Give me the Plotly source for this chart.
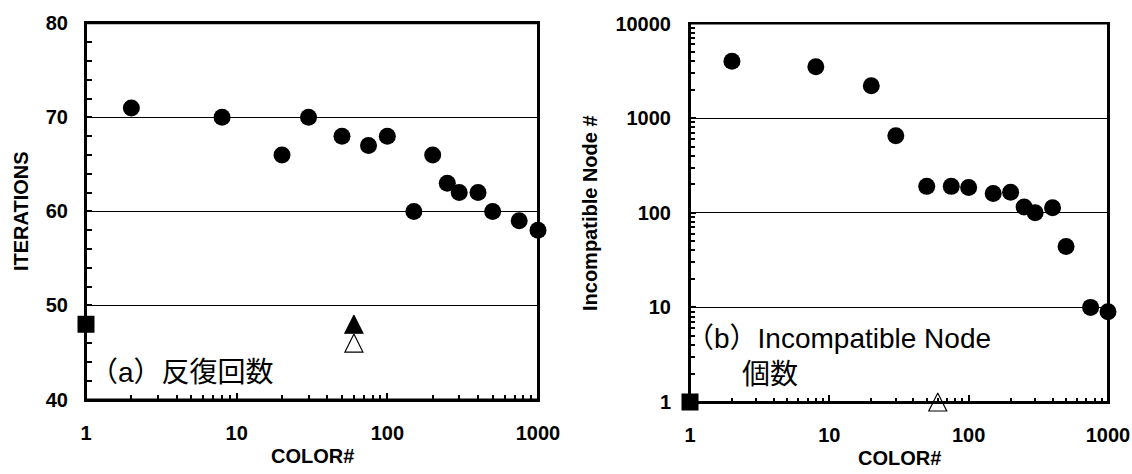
import plotly.graph_objects as go

# ---- data -------------------------------------------------------------
color_counts = [2, 8, 20, 30, 50, 75, 100, 150, 200, 250, 300, 400, 500, 750, 1000]
iterations = [71, 70, 66, 70, 68, 67, 68, 60, 66, 63, 62, 62, 60, 59, 58]
incompatible_nodes = [4000, 3500, 2200, 650, 190, 190, 185, 160, 165, 115, 100, 113, 44, 10, 9]

base_color = [1]
base_iterations = [48]
base_incompatible = [1]

ref_color = [60]
ref_iterations_filled = [48]
ref_iterations_open = [46]
ref_incompatible_open = [1]

x_tick_vals = [1, 10, 100, 1000]
x_tick_text = ["1", "10", "100", "1000"]
x_minor_vals = [m * d for d in (1, 10, 100) for m in range(2, 10)]
y1_tick_vals = [40, 50, 60, 70, 80]
y2_tick_vals = [1, 10, 100, 1000, 10000]
y2_minor_vals = [m * d for d in (1, 10, 100, 1000) for m in range(2, 10)]

# ---- geometry (pixels) -------------------------------------------------
W, H = 1132, 474
def px(x):
    return x / W
def py(y):
    return 1 - y / H

PANELS = {
    "left": dict(x0=86, x1=538, y0=23.3, y1=399.5),
    "right": dict(x0=690, x1=1108, y0=23.5, y1=402),
}

BOLD = dict(family="Liberation Sans, Arial, sans-serif", size=20, color="black", weight="bold")
NOTE = dict(family="Liberation Sans, Noto Sans CJK JP, sans-serif", size=28, color="black")

fig = go.Figure()

dot = dict(symbol="circle", size=17, color="black", line=dict(width=0))
sq = dict(symbol="square", size=17, color="black", line=dict(width=0))
# upward triangle centred on its point (arrow shape turned round and pulled back)
tri_fill = dict(symbol="arrow-down", angle=180, standoff=9, size=18, color="black",
                line=dict(width=1.2, color="black"))
tri_open = dict(symbol="arrow-down", angle=180, standoff=9, size=18, color="white",
                line=dict(width=1.2, color="black"))

# left panel: iterations
fig.add_trace(go.Scatter(x=color_counts, y=iterations, mode="markers", marker=dot,
                         xaxis="x", yaxis="y", cliponaxis=False, showlegend=False))
fig.add_trace(go.Scatter(x=base_color, y=base_iterations, mode="markers", marker=sq,
                         xaxis="x", yaxis="y", cliponaxis=False, showlegend=False))
fig.add_trace(go.Scatter(x=ref_color, y=ref_iterations_filled, mode="markers", marker=tri_fill,
                         xaxis="x", yaxis="y", cliponaxis=False, showlegend=False))
fig.add_trace(go.Scatter(x=ref_color, y=ref_iterations_open, mode="markers", marker=tri_open,
                         xaxis="x", yaxis="y", cliponaxis=False, showlegend=False))

# right panel: incompatible node count
fig.add_trace(go.Scatter(x=color_counts, y=incompatible_nodes, mode="markers", marker=dot,
                         xaxis="x2", yaxis="y2", cliponaxis=False, showlegend=False))
fig.add_trace(go.Scatter(x=base_color, y=base_incompatible, mode="markers", marker=sq,
                         xaxis="x2", yaxis="y2", cliponaxis=False, showlegend=False))
fig.add_trace(go.Scatter(x=ref_color, y=ref_incompatible_open, mode="markers", marker=tri_open,
                         xaxis="x2", yaxis="y2", cliponaxis=False, showlegend=False))

common_x = dict(
    type="log", range=[0, 3], tickmode="array", tickvals=x_tick_vals, ticktext=x_tick_text,
    ticks="inside", ticklen=7, tickwidth=2, tickcolor="black",
    showline=True, linewidth=2, linecolor="black", mirror=True,
    showgrid=False, zeroline=False, tickfont=BOLD, ticklabelstandoff=14,
    automargin=False,
    minor=dict(tickmode="array", tickvals=x_minor_vals, ticks="inside", ticklen=4.5,
               tickwidth=1.5, tickcolor="black", showgrid=False),
)

left, right = PANELS["left"], PANELS["right"]
fig.update_layout(
    width=W, height=H, margin=dict(l=0, r=0, t=0, b=0, pad=0, autoexpand=False),
    paper_bgcolor="white", plot_bgcolor="white",
    xaxis=dict(common_x, domain=[px(left["x0"]), px(left["x1"])], anchor="y"),
    yaxis=dict(
        range=[40, 80], tickmode="array", tickvals=y1_tick_vals,
        ticks="inside", ticklen=6, tickwidth=2, tickcolor="black",
        showline=True, linewidth=2, linecolor="black", mirror=True,
        showgrid=True, gridcolor="black", gridwidth=1, zeroline=False,
        tickfont=BOLD, ticklabelstandoff=12, automargin=False,
        domain=[py(left["y1"]), py(left["y0"])], anchor="x",
        minor=dict(dtick=2, ticks="inside", ticklen=5.5, tickwidth=1.5,
                   tickcolor="black", showgrid=False),
    ),
    xaxis2=dict(common_x, domain=[px(right["x0"]), px(right["x1"])], anchor="y2"),
    yaxis2=dict(
        type="log", range=[0, 4], tickmode="array", tickvals=y2_tick_vals,
        ticktext=[str(v) for v in y2_tick_vals],
        ticks="inside", ticklen=6, tickwidth=2, tickcolor="black",
        showline=True, linewidth=2, linecolor="black", mirror=True,
        showgrid=True, gridcolor="black", gridwidth=1, zeroline=False,
        tickfont=BOLD, ticklabelstandoff=13, automargin=False,
        domain=[py(right["y1"]), py(right["y0"])], anchor="x2",
        minor=dict(tickmode="array", tickvals=y2_minor_vals, ticks="inside", ticklen=5,
                   tickwidth=1.5, tickcolor="black", showgrid=False),
    ),
)

# plot-area frames in page coordinates
for p in PANELS.values():
    fig.add_shape(type="rect", xref="paper", yref="paper",
                  x0=px(p["x0"]), x1=px(p["x1"]), y0=py(p["y1"]), y1=py(p["y0"]),
                  line=dict(color="black", width=2), fillcolor="rgba(0,0,0,0)",
                  layer="above")

annotations = [
    dict(text="ITERATIONS", x=px(21), y=py(211), textangle=-90, font=BOLD),
    dict(text="COLOR#", x=px(312), y=py(456), font=BOLD),
    dict(text="Incompatible Node #", x=px(590), y=py(213), textangle=-90, font=BOLD),
    dict(text="COLOR#", x=px(899), y=py(458), font=BOLD),
    dict(text="（a）反復回数", x=px(88), y=py(372), xanchor="left", font=NOTE),
    dict(text="（b）Incompatible Node<br>　　個数", x=px(684), y=py(356),
         xanchor="left", align="left", font=NOTE),
]
for a in annotations:
    a.setdefault("xanchor", "center")
    fig.add_annotation(xref="paper", yref="paper", yanchor="middle", showarrow=False, **a)

fig.write_html("out.html")
